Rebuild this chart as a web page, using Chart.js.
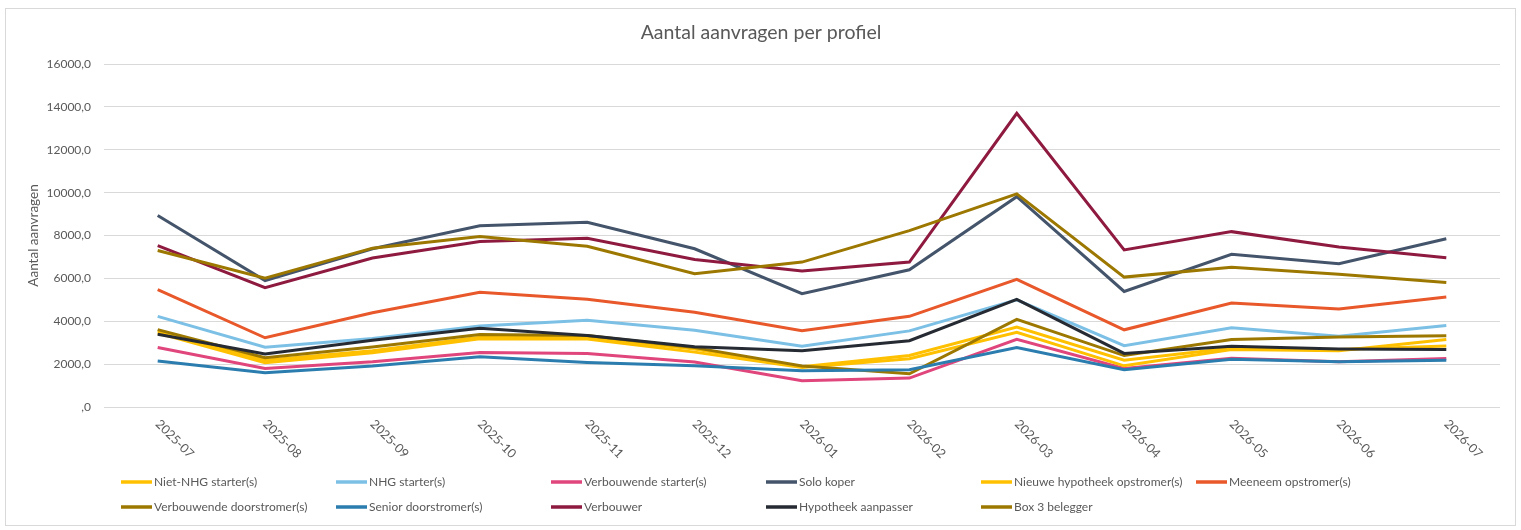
<!DOCTYPE html>
<html>
<head>
<meta charset="utf-8">
<title>Aantal aanvragen per profiel</title>
<script src="https://cdn.jsdelivr.net/npm/chart.js@4.4.1/dist/chart.umd.min.js"></script>
<style>
  html, body { margin: 0; padding: 0; background: #fff; }
  canvas { display: block; }
</style>
</head>
<body>
<canvas id="profiel-line" width="1521" height="530"></canvas>
<script>
// maanden op de x-as
var months = ['2025-07', '2025-08', '2025-09', '2025-10', '2025-11', '2025-12',
  '2026-01', '2026-02', '2026-03', '2026-04', '2026-05', '2026-06', '2026-07'];

// y-as ticks
var y_min = 0;
var y_max = 16000;
var y_step = 2000;

// waarden per profiel
var niet_nhg_starter = [3550, 2180, 2620, 3250, 3230, 2700, 1880, 2400, 3730, 2180, 2750, 2680, 2850];
var nhg_starter = [4230, 2790, 3190, 3780, 4050, 3580, 2840, 3550, 5000, 2860, 3700, 3300, 3800];
var verbouwende_starter = [2780, 1800, 2110, 2540, 2500, 2100, 1220, 1350, 3160, 1800, 2270, 2110, 2260];
var solo_koper = [8930, 5900, 7380, 8450, 8620, 7380, 5290, 6400, 9810, 5390, 7120, 6680, 7850];
var nieuwe_hyp_opstromer = [3450, 2070, 2530, 3180, 3170, 2560, 1840, 2250, 3480, 1920, 2680, 2620, 3150];
var meeneem_opstromer = [5470, 3230, 4400, 5350, 5030, 4420, 3560, 4230, 5950, 3600, 4850, 4570, 5130];
var verbouwende_doorstromer = [3610, 2300, 2800, 3380, 3330, 2770, 1910, 1550, 4090, 2400, 3150, 3270, 3320];
var senior_doorstromer = [2150, 1600, 1910, 2340, 2080, 1920, 1690, 1740, 2770, 1740, 2230, 2110, 2180];
var verbouwer = [7530, 5570, 6950, 7720, 7870, 6880, 6340, 6760, 13700, 7330, 8180, 7460, 6960];
var hypotheek_aanpasser = [3390, 2470, 3110, 3670, 3330, 2810, 2620, 3090, 5020, 2500, 2830, 2700, 2680];
var box3_belegger = [7300, 6010, 7410, 7950, 7500, 6220, 6760, 8230, 9940, 6060, 6520, 6190, 5810];

var series_names = ['Niet-NHG starter(s)', 'NHG starter(s)', 'Verbouwende starter(s)', 'Solo koper',
  'Nieuwe hypotheek opstromer(s)', 'Meeneem opstromer(s)', 'Verbouwende doorstromer(s)',
  'Senior doorstromer(s)', 'Verbouwer', 'Hypotheek aanpasser', 'Box 3 belegger'];
var series_values = [niet_nhg_starter, nhg_starter, verbouwende_starter, solo_koper,
  nieuwe_hyp_opstromer, meeneem_opstromer, verbouwende_doorstromer,
  senior_doorstromer, verbouwer, hypotheek_aanpasser, box3_belegger];
var series_colors = ['#FFC000', '#7CC0E6', '#E0457B', '#44546A',
  '#FFC000', '#E8582A', '#9C7800',
  '#2A7DAE', '#8E1A40', '#262B33', '#9C7800'];

var text_color = '#595959';
var grid_color = '#D9D9D9';
var font_family = 'Lato, "Open Sans", sans-serif';

// titel, kader, gedraaide maandlabels en legenda
var decorations = {
  id: 'decorations',
  beforeDraw: function (chart) {
    var ctx = chart.ctx;
    ctx.save();
    ctx.fillStyle = '#fff';
    ctx.fillRect(0, 0, chart.width, chart.height);
    ctx.strokeStyle = grid_color;
    ctx.lineWidth = 1;
    ctx.strokeRect(5.5, 8.5, 1510, 517);
    ctx.restore();
  },
  afterDraw: function (chart) {
    var ctx = chart.ctx;
    var area = chart.chartArea;
    var xs = chart.scales.x;
    ctx.save();

    // titel, gecentreerd op het hele kader
    ctx.fillStyle = text_color;
    ctx.font = '19.5px ' + font_family;
    ctx.textAlign = 'center';
    ctx.textBaseline = 'middle';
    ctx.fillText('Aantal aanvragen per profiel', 761, 33);

    // maandlabels, 45 graden naar rechts omlaag
    ctx.font = '12.5px ' + font_family;
    ctx.textAlign = 'left';
    for (var i = 0; i < months.length; ++i) {
      var px = xs.getPixelForTick(i);
      ctx.save();
      ctx.translate(px, area.bottom + 15);
      ctx.rotate(Math.PI / 4);
      ctx.fillText(months[i], 0, 0);
      ctx.restore();
    }

    // legenda in kolommen van 215px
    ctx.font = '12px ' + font_family;
    ctx.textBaseline = 'middle';
    for (var j = 0; j < series_names.length; ++j) {
      var col = j % 6;
      var row = Math.floor(j / 6);
      var lx = 121 + col * 215;
      var ly = 482 + row * 25;
      ctx.strokeStyle = series_colors[j];
      ctx.lineWidth = 3.5;
      ctx.beginPath();
      ctx.moveTo(lx, ly);
      ctx.lineTo(lx + 31, ly);
      ctx.stroke();
      ctx.fillStyle = text_color;
      ctx.fillText(series_names[j], lx + 33, ly);
    }
    ctx.restore();
  }
};

window.addEventListener('load', setup);

function setup() {
  var ctx = document.getElementById('profiel-line').getContext('2d');
  var datasets = [];
  for (var i = 0; i < series_names.length; ++i) {
    datasets.push({
      label: series_names[i],
      data: series_values[i],
      borderColor: series_colors[i],
      backgroundColor: series_colors[i],
      borderWidth: 3,
      pointRadius: 0,
      pointHoverRadius: 0,
      tension: 0,
      fill: false,
      order: series_names.length - i // laatste reeks bovenop, zoals Excel
    });
  }

  new Chart(ctx, {
    type: 'line',
    data: { labels: months, datasets: datasets },
    plugins: [decorations],
    options: {
      responsive: false,
      animation: false,
      events: [],
      layout: { padding: { top: 64, right: 21, left: 0, bottom: 0 } },
      plugins: {
        legend: { display: false },
        title: { display: false },
        tooltip: { enabled: false }
      },
      scales: {
        x: {
          type: 'category',
          offset: true,
          grid: { display: false },
          border: { display: false },
          ticks: { display: false },
          afterFit: function (scale) { scale.height = 123; }
        },
        y: {
          min: y_min,
          max: y_max,
          grid: { color: grid_color, lineWidth: 1, drawTicks: false },
          border: { display: false },
          ticks: {
            stepSize: y_step,
            padding: 13,
            color: text_color,
            font: { family: font_family, size: 12 },
            callback: function (v) {
              return v === 0 ? ',0' : v.toFixed(1).replace('.', ',');
            }
          },
          title: {
            display: true,
            text: 'Aantal aanvragen',
            color: text_color,
            font: { family: font_family, size: 13.5 },
            padding: { top: 26, bottom: 0 }
          },
          afterFit: function (scale) { scale.width = 104; }
        }
      }
    }
  });
}
</script>
</body>
</html>
